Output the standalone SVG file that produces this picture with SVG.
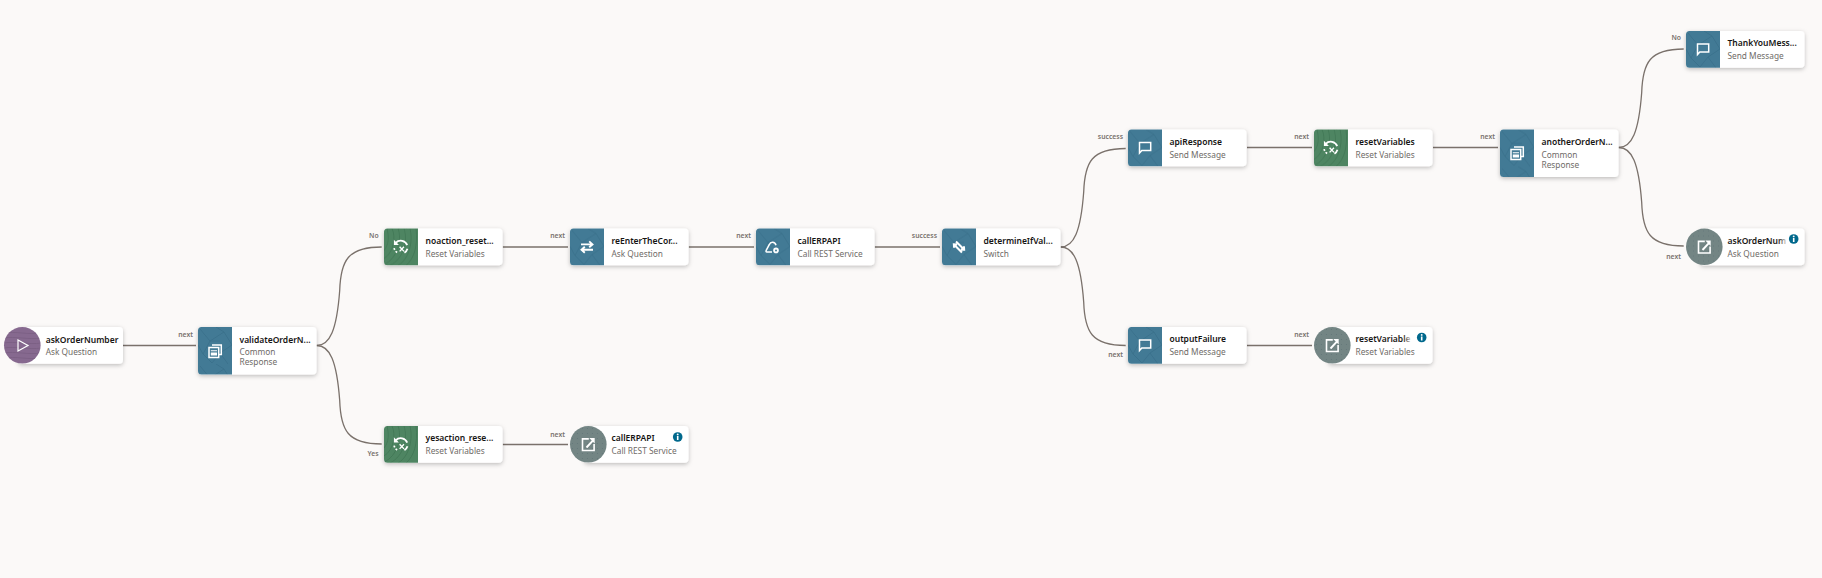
<svg xmlns="http://www.w3.org/2000/svg" width="1822" height="578" viewBox="0 0 1822 578">
<style>
.n{font:600 8.5px "Noto Sans",sans-serif;fill:#161513}
.s{font:400 8.3px "Noto Sans",sans-serif;fill:#6f6b67}
.l{font:600 6.8px "Noto Sans",sans-serif;fill:#77716c;text-anchor:end}
.card{fill:#fff;filter:url(#sh)}
.c{fill:none;stroke:#7a716b;stroke-width:1.3}
.ic{fill:none;stroke:#fff;stroke-width:1.5}
.fw{fill:#fff}
</style>
<defs>
<filter id="sh" x="-15%" y="-20%" width="130%" height="150%"><feDropShadow dx="0" dy="1.5" stdDeviation="2" flood-color="#000" flood-opacity=".25"/></filter>
<linearGradient id="fade" x1="0" x2="1" y1="0" y2="0"><stop offset=".86" stop-color="#161513"/><stop offset="1" stop-color="#161513" stop-opacity=".2"/></linearGradient>
<pattern id="pb" width="34" height="37" patternUnits="userSpaceOnUse"><rect width="34" height="37" fill="#427a95"/><path d="M2 2L12 14L5 27L14 36M12 14L26 5M26 5L34 18L22 26L14 36M22 26L30 37M0 18L5 27M18 0L26 5M22 14L12 14" fill="none" stroke="#366d88" stroke-width=".7"/></pattern>
<pattern id="pg" width="34" height="37" patternUnits="userSpaceOnUse"><rect width="34" height="37" fill="#4e8562"/><path d="M0 30C10 24 12 8 8 0M0 36C14 30 18 10 14 0M6 37C20 30 24 12 20 0M14 37C26 30 29 12 26 0M22 37C30 30 34 18 32 0M0 22C5 16 5 8 3 0" fill="none" stroke="#3f7553" stroke-width=".8"/></pattern>
<pattern id="pp" width="37" height="37" patternUnits="userSpaceOnUse"><rect width="37" height="37" fill="#86698f"/><path d="M0 6C10 4 26 8 37 6M0 11C10 9 26 13 37 11M0 16C10 14 26 18 37 16M0 21C10 19 26 23 37 21M0 26C10 24 26 28 37 26M0 31C10 29 26 33 37 31" fill="none" stroke="#775b80" stroke-width=".7"/></pattern>
<pattern id="pd" width="5" height="5" patternUnits="userSpaceOnUse"><rect width="5" height="5" fill="#738584"/><circle cx="2.5" cy="2.5" r=".6" fill="#64777a"/></pattern>
<path id="pn" d="M3.5 0H34V36.7H3.5A3.5 3.5 0 0 1 0 33.2V3.5A3.5 3.5 0 0 1 3.5 0Z"/>
<path id="pt" d="M3.5 0H34V47.5H3.5A3.5 3.5 0 0 1 0 44V3.5A3.5 3.5 0 0 1 3.5 0Z"/>
<g id="i-msg"><path class="ic" d="M-5.5-5H5.7V3H-3.2L-5.5 5.6Z"/></g>
<g id="i-reset"><g transform="scale(1.15)"><path class="ic" d="M-4.6-3.6A6 6 0 0 1 5.4-1.6"/><path class="ic" d="M5.6 1.6A6 6 0 0 1 3 5"/><path class="ic" d="M-6 1A6 6 0 0 0-2.5 5.2" stroke-dasharray="1.6 1.4"/><path class="fw" d="M-6.2-6.2V-1.8H-1.8Z"/><path class="ic" style="stroke-width:1.2" d="M-1.2-.2L2.6 3.8M2.6-.2L-1.2 3.8"/></g></g>
<g id="i-doc"><path class="ic" d="M-3-6H6.3V3.6H4"/><path class="ic" d="M-6-3.4H3.7V6.4H-6Z"/><path class="fw" d="M-4.2-.8H2V.3H-4.2ZM-4.2 1.4H2V4.4H-4.2Z"/></g>
<g id="i-swap"><path class="ic" style="stroke-width:1.9" d="M-6-2.6H5M2.2-5.6L5.5-2.6L2.2.2M6 2.8H-5M-2.2-.2L-5.5 2.8L-2.2 5.8"/></g>
<g id="i-cloud"><path class="ic" d="M-1 5H-6.2C-7 5-7.2 4-6.8 3.4L-3.6-2.6C-2.6-5.4 2-5.6 3-1.8"/><circle cx="3" cy="3.4" r="2.8" class="fw"/><circle cx="3" cy="3.4" r="1" fill="#427a95"/></g>
<g id="i-switch"><g transform="rotate(45)"><path class="ic" style="stroke-width:2" d="M-6-1.8H5M3-4L5.5-1.8L3 .4M6 1.8H-5M-3-.4L-5.5 1.8L-3 4"/></g></g>
<g id="i-ext"><path class="ic" style="stroke-width:1.6" d="M.5-5.6H-5.8V6H5.8V-.5"/><path class="ic" style="stroke-width:1.9" d="M-1.8 3L5 -4.4"/><path class="fw" d="M1-6.4H6.4V-1Z"/></g>
<g id="i-play"><path fill="none" stroke="#fff" stroke-width="1.2" d="M-5-5.5V5.5L5 0Z"/></g>
<g id="i-info"><circle r="4.8" fill="#00688c"/><rect x="-.8" y="-1" width="1.6" height="4" fill="#fff"/><circle cy="-2.6" r=".95" fill="#fff"/></g>
</defs>
<rect width="1822" height="578" fill="#fbf9f8"/>
<g id="connectors">
<path class="c" d="M123 345.5H196"/>
<path class="c" d="M316.7 345.5c13 0 20-15 23-55c1-30 8-43.5 42-43.5"/>
<path class="c" d="M316.7 345.5c13 0 20 15 23 55c1 30 8 43.5 42 43.5"/>
<path class="c" d="M502.8 247H568"/>
<path class="c" d="M502.8 444.5H568"/>
<path class="c" d="M688.8 247H754"/>
<path class="c" d="M874.8 247H940"/>
<path class="c" d="M1060.7 247c13 0 20-15 23-55c1-30 8-43.5 42-43.5"/>
<path class="c" d="M1060.7 247c13 0 20 15 23 55c1 30 8 43.5 42 43.5"/>
<path class="c" d="M1247 147.5H1312"/>
<path class="c" d="M1247 345.5H1312"/>
<path class="c" d="M1433 147.5H1498"/>
<path class="c" d="M1618.7 147.5c13 0 20-15 23-55c1-30 8-43.5 42-43.5"/>
<path class="c" d="M1618.7 147.5c13 0 20 15 23 55c1 30 8 43.5 42 43.5"/>
<text class="l" x="193" y="337">next</text>
<text class="l" x="378.7" y="238">No</text>
<text class="l" x="378.7" y="456">Yes</text>
<text class="l" x="565" y="238">next</text>
<text class="l" x="565" y="436.5">next</text>
<text class="l" x="751" y="238">next</text>
<text class="l" x="937" y="238">success</text>
<text class="l" x="1123" y="139">success</text>
<text class="l" x="1123" y="357">next</text>
<text class="l" x="1309" y="139">next</text>
<text class="l" x="1309" y="337">next</text>
<text class="l" x="1495" y="139">next</text>
<text class="l" x="1681" y="40">No</text>
<text class="l" x="1681" y="258.5">next</text>
</g>
<g id="askOrderNumber" transform="translate(4 327)"><rect class="card" x="14" width="105" height="36.7" rx="4"/><circle cx="18.3" cy="18.3" r="18.3" fill="url(#pp)"/><use href="#i-play" x="19" y="18.5"/><text class="n" x="41.7" y="15.5">askOrderNumber</text><text class="s" x="41.7" y="28">Ask Question</text></g>
<g id="validateOrderNumber" transform="translate(198 327)"><rect class="card" width="118.5" height="47.5" rx="4"/><use href="#pt" fill="url(#pb)"/><use href="#i-doc" x="17" y="24"/><text class="n" x="41.5" y="15.5">validateOrderN...</text><text class="s" x="41.5" y="28">Common</text><text class="s" x="41.5" y="38">Response</text></g>
<g id="noaction_resetVariables" transform="translate(384 228.5)"><rect class="card" width="118.5" height="36.7" rx="4"/><use href="#pn" fill="url(#pg)"/><use href="#i-reset" x="17" y="18.5"/><text class="n" x="41.5" y="15">noaction_reset...</text><text class="s" x="41.5" y="28">Reset Variables</text></g>
<g id="yesaction_resetVariables" transform="translate(384 426)"><rect class="card" width="118.5" height="36.7" rx="4"/><use href="#pn" fill="url(#pg)"/><use href="#i-reset" x="17" y="18.5"/><text class="n" x="41.5" y="15">yesaction_rese...</text><text class="s" x="41.5" y="28">Reset Variables</text></g>
<g id="reEnterTheCorrectOrder" transform="translate(570 228.5)"><rect class="card" width="118.5" height="36.7" rx="4"/><use href="#pn" fill="url(#pb)"/><use href="#i-swap" x="17" y="18.5"/><text class="n" x="41.5" y="15">reEnterTheCor...</text><text class="s" x="41.5" y="28">Ask Question</text></g>
<g id="callERPAPI-ref" transform="translate(570 426)"><rect class="card" x="14" width="104.5" height="36.7" rx="4"/><circle cx="18.3" cy="18.3" r="18.3" fill="url(#pd)"/><use href="#i-ext" x="18.3" y="18.5"/><text class="n" x="41.5" y="15">callERPAPI</text><text class="s" x="41.5" y="28">Call REST Service</text><use href="#i-info" x="107.7" y="11"/></g>
<g id="callERPAPI" transform="translate(756 228.5)"><rect class="card" width="118.5" height="36.7" rx="4"/><use href="#pn" fill="url(#pb)"/><use href="#i-cloud" x="17" y="18.5"/><text class="n" x="41.5" y="15">callERPAPI</text><text class="s" x="41.5" y="28">Call REST Service</text></g>
<g id="determineIfValid" transform="translate(942 228.5)"><rect class="card" width="118.5" height="36.7" rx="4"/><use href="#pn" fill="url(#pb)"/><use href="#i-switch" x="17" y="18.5"/><text class="n" x="41.5" y="15">determineIfVal...</text><text class="s" x="41.5" y="28">Switch</text></g>
<g id="apiResponse" transform="translate(1128 129.5)"><rect class="card" width="118.5" height="36.7" rx="4"/><use href="#pn" fill="url(#pb)"/><use href="#i-msg" x="17" y="18"/><text class="n" x="41.5" y="15">apiResponse</text><text class="s" x="41.5" y="28">Send Message</text></g>
<g id="outputFailure" transform="translate(1128 327)"><rect class="card" width="118.5" height="36.7" rx="4"/><use href="#pn" fill="url(#pb)"/><use href="#i-msg" x="17" y="18"/><text class="n" x="41.5" y="15">outputFailure</text><text class="s" x="41.5" y="28">Send Message</text></g>
<g id="resetVariables" transform="translate(1314 129.5)"><rect class="card" width="118.5" height="36.7" rx="4"/><use href="#pn" fill="url(#pg)"/><use href="#i-reset" x="17" y="18.5"/><text class="n" x="41.5" y="15">resetVariables</text><text class="s" x="41.5" y="28">Reset Variables</text></g>
<g id="resetVariables-ref" transform="translate(1314 327)"><rect class="card" x="14" width="104.5" height="36.7" rx="4"/><circle cx="18.3" cy="18.3" r="18.3" fill="url(#pd)"/><use href="#i-ext" x="18.3" y="18.5"/><text class="n" x="41.5" y="15" style="fill:url(#fade)">resetVariable</text><text class="s" x="41.5" y="28">Reset Variables</text><use href="#i-info" x="107.7" y="10.5"/></g>
<g id="anotherOrderNumber" transform="translate(1500 129.5)"><rect class="card" width="118.5" height="47.5" rx="4"/><use href="#pt" fill="url(#pb)"/><use href="#i-doc" x="17" y="23.5"/><text class="n" x="41.5" y="15.5">anotherOrderN...</text><text class="s" x="41.5" y="28">Common</text><text class="s" x="41.5" y="38">Response</text></g>
<g id="ThankYouMessage" transform="translate(1686 31)"><rect class="card" width="118.5" height="36.7" rx="4"/><use href="#pn" fill="url(#pb)"/><use href="#i-msg" x="17" y="18"/><text class="n" x="41.5" y="15">ThankYouMess...</text><text class="s" x="41.5" y="28">Send Message</text></g>
<g id="askOrderNumber-ref" transform="translate(1686 228.5)"><rect class="card" x="14" width="104.5" height="36.7" rx="4"/><circle cx="18.3" cy="18.3" r="18.3" fill="url(#pd)"/><use href="#i-ext" x="18.3" y="18.5"/><text class="n" x="41.5" y="15" style="fill:url(#fade)">askOrderNum</text><text class="s" x="41.5" y="28">Ask Question</text><use href="#i-info" x="107.7" y="10.5"/></g>
</svg>
